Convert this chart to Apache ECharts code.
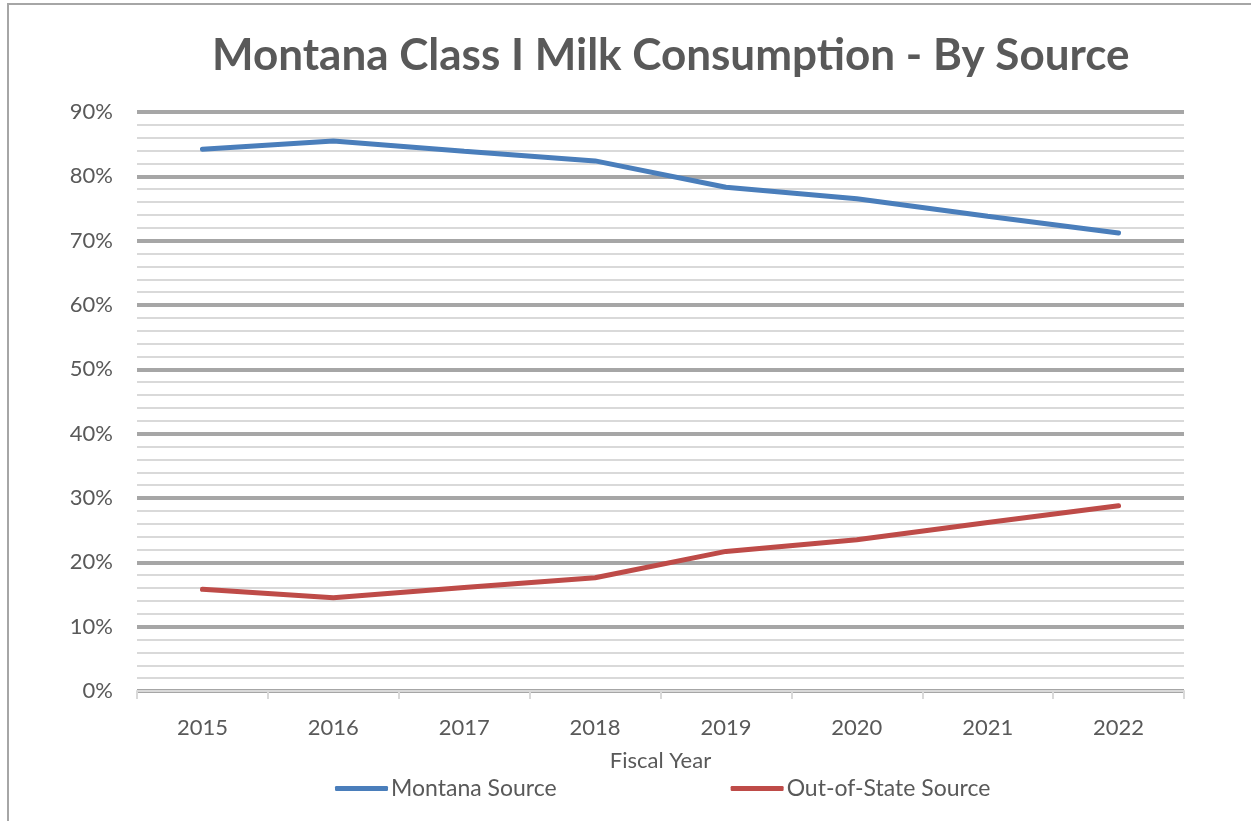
<!DOCTYPE html>
<html>
<head>
<meta charset="utf-8">
<script src="https://cdn.jsdelivr.net/npm/echarts@6/dist/echarts.min.js"></script>
<style>
  html, body { margin: 0; padding: 0; background: #fff; }
  #frame { position: absolute; left: 7px; top: 3px; width: 1260px; height: 830px; border: 2px solid #A6A6A6; box-sizing: border-box; }
  #chart { position: absolute; left: 0; top: 0; width: 1251px; height: 821px; }
</style>
</head>
<body>
<div id="frame"></div>
<div id="chart"></div>
<script>
// years on the x axis
const years = ["2015", "2016", "2017", "2018", "2019", "2020", "2021", "2022"];
// share of Class I milk (%)
const montanaSource = [84.2, 85.5, 83.9, 82.4, 78.3, 76.5, 73.8, 71.2];
const outOfStateSource = [15.8, 14.5, 16.1, 17.6, 21.7, 23.5, 26.2, 28.8];

const chart = echarts.init(document.getElementById("chart"));
const textColor = "#595959";
const font = "Lato, 'Open Sans', sans-serif";

chart.setOption({
    animation: false,
    title: {
        text: "Montana Class I Milk Consumption - By Source",
        left: 207,
        top: 29,
        textStyle: { fontFamily: font, fontSize: 44, fontWeight: "bold", color: textColor },
    },
    legend: {
        top: 772,
        left: 330,
        itemGap: 174,
        itemWidth: 53,
        itemHeight: 5,
        icon: "roundRect",
        textStyle: { fontFamily: font, fontSize: 23, color: textColor, padding: [0, 0, 0, -2] },
        data: ["Montana Source", "Out-of-State Source"],
    },
    grid: { left: 137, right: 67, top: 112, bottom: 130 },
    xAxis: {
        type: "category",
        data: years,
        boundaryGap: true,
        name: "Fiscal Year",
        nameLocation: "middle",
        nameGap: 59,
        nameTextStyle: { fontFamily: font, fontSize: 22, color: textColor },
        axisLine: { lineStyle: { color: "#D9D9D9", width: 2 } },
        axisTick: { show: true, interval: 0, length: 8, lineStyle: { color: "#D9D9D9", width: 2 } },
        axisLabel: { fontFamily: font, fontSize: 22, color: textColor, margin: 26 },
    },
    yAxis: {
        type: "value",
        min: 0,
        max: 90,
        interval: 10,
        axisLine: { show: false },
        axisTick: { show: false },
        axisLabel: { formatter: "{value}%", fontFamily: font, fontSize: 22, color: textColor, margin: 24 },
        splitLine: { lineStyle: { color: "#A6A6A6", width: 4 } },
        minorTick: { show: false, splitNumber: 5 },
        minorSplitLine: { show: true, lineStyle: { color: "#D9D9D9", width: 2 } },
    },
    series: [
        {
            name: "Montana Source",
            type: "line",
            data: montanaSource,
            symbol: "none",
            color: "#4A7EBB",
            lineStyle: { width: 5, cap: "round" },
        },
        {
            name: "Out-of-State Source",
            type: "line",
            data: outOfStateSource,
            symbol: "none",
            color: "#BE4B48",
            lineStyle: { width: 5, cap: "round" },
        },
    ],
});
</script>
</body>
</html>
